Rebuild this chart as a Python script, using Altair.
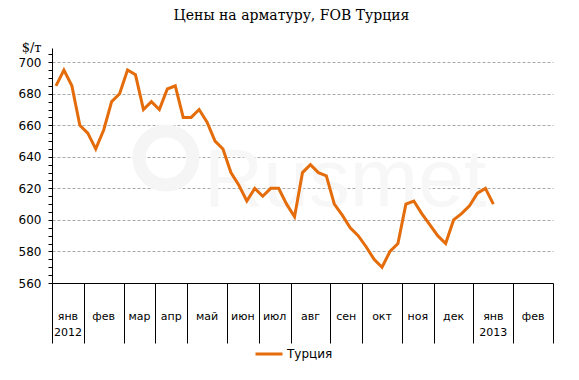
import altair as alt
import pandas as pd

# ---- data ----
month_labels = ["янв\n2012", "фев", "мар", "апр", "май", "июн", "июл", "авг",
                "сен", "окт", "ноя", "дек", "янв\n2013", "фев"]
weeks_per_month = [4, 5, 4, 4, 5, 4, 4, 5, 4, 5, 4, 5, 5, 5]
prices = [685, 695, 685, 660,
          655, 645, 657, 675, 680,
          695, 692, 670, 675,
          670, 683, 685, 665,
          665, 670, 662, 650, 645,
          630, 622, 612, 620,
          615, 620, 620, 610,
          602, 630, 635, 630, 628,
          610, 603, 595, 590,
          583, 575, 570, 580, 585,
          610, 612, 604, 597,
          590, 585, 600, 604, 609,
          617, 620, 610]
series_name = "Турция"
y_ticks = list(range(560, 710, 5))

# ---- derived tables ----
bounds = [0]
for n in weeks_per_month:
    bounds.append(bounds[-1] + n)
total_weeks = bounds[-1]

df = pd.DataFrame({
    "w": [i + 0.5 for i in range(len(prices))],
    "price": prices,
    "series": [series_name] * len(prices),
})
df_m = pd.DataFrame({
    "c": [bounds[i] + weeks_per_month[i] / 2 for i in range(len(month_labels))],
    "label": month_labels,
})

W, H = 501, 235
ORANGE = "#E46C0A"
FONT = "DejaVu Sans"

x_scale = alt.Scale(domain=[0, total_weeks], nice=False, zero=False)
y_scale = alt.Scale(domain=[560, 709], nice=False, zero=False)
x_axis = alt.Axis(values=bounds, labels=False, labelOverlap=False, tickSize=60,
                  tickColor="black", domainColor="black", grid=False,
                  tickWidth=1, domainWidth=1, title=None)

# watermark
wm = pd.DataFrame({"t": ["Rusmet"]})
watermark_text = alt.Chart(wm).mark_text(
    font="Liberation Sans", fontSize=82, color="#f7f7f7", align="left", baseline="alphabetic"
).encode(x=alt.value(152), y=alt.value(158), text="t:N")
watermark_ring = alt.Chart(wm).mark_point(
    shape="circle", size=2900, strokeWidth=13, color="#f5f5f5", opacity=1, filled=False
).encode(x=alt.value(114), y=alt.value(110))

line = alt.Chart(df).mark_line(strokeWidth=3, strokeJoin="miter").encode(
    x=alt.X("w:Q", scale=x_scale, axis=x_axis),
    y=alt.Y("price:Q", scale=y_scale,
            axis=alt.Axis(values=y_ticks,
                          labelExpr="datum.value % 20 == 0 ? datum.label : ''",
                          labelOverlap=False,
                          tickSize=4, tickColor="black", domainColor="black",
                          labelFont=FONT, labelFontSize=12, labelColor="black",
                          labelPadding=7,
                          grid=True, gridColor="#a8a8a8", gridDash=[3, 2],
                          gridOpacity={"condition": {"test": "datum.value % 20 == 0", "value": 1}, "value": 0},
                          title="$/т", titleAngle=0, titleAlign="right", titleBaseline="middle",
                          titleX=-11, titleY=-1, titleFont="DejaVu Serif", titleFontSize=13,
                          titleFontWeight="normal", titleColor="black")),
    color=alt.Color("series:N", scale=alt.Scale(range=[ORANGE]),
                    legend=alt.Legend(orient="none", legendX=202, legendY=291, title=None,
                                      symbolType="stroke", symbolSize=729, symbolStrokeWidth=3,
                                      labelFont=FONT, labelFontSize=12, labelColor="black",
                                      padding=0, labelOffset=3)),
)

month_text = alt.Chart(df_m).mark_text(
    font=FONT, fontSize=11, color="black", baseline="top", align="center",
    lineBreak="\n", lineHeight=16
).encode(x=alt.X("c:Q", scale=x_scale, axis=x_axis), y=alt.value(H + 28), text="label:N")

chart = alt.layer(watermark_ring, watermark_text, line, month_text).properties(
    width=W, height=H,
    title=alt.TitleParams("Цены на арматуру, FOB Турция", anchor="middle", font="DejaVu Serif",
                          fontSize=14, fontWeight="normal", color="black", dx=-11, offset=18),
    autosize=alt.AutoSizeParams(type="none"),
    padding={"left": 44, "top": 40, "right": 18, "bottom": 89},
).configure_view(stroke=None)

chart.save("out.html", embed_options={"renderer": "svg", "actions": False})
